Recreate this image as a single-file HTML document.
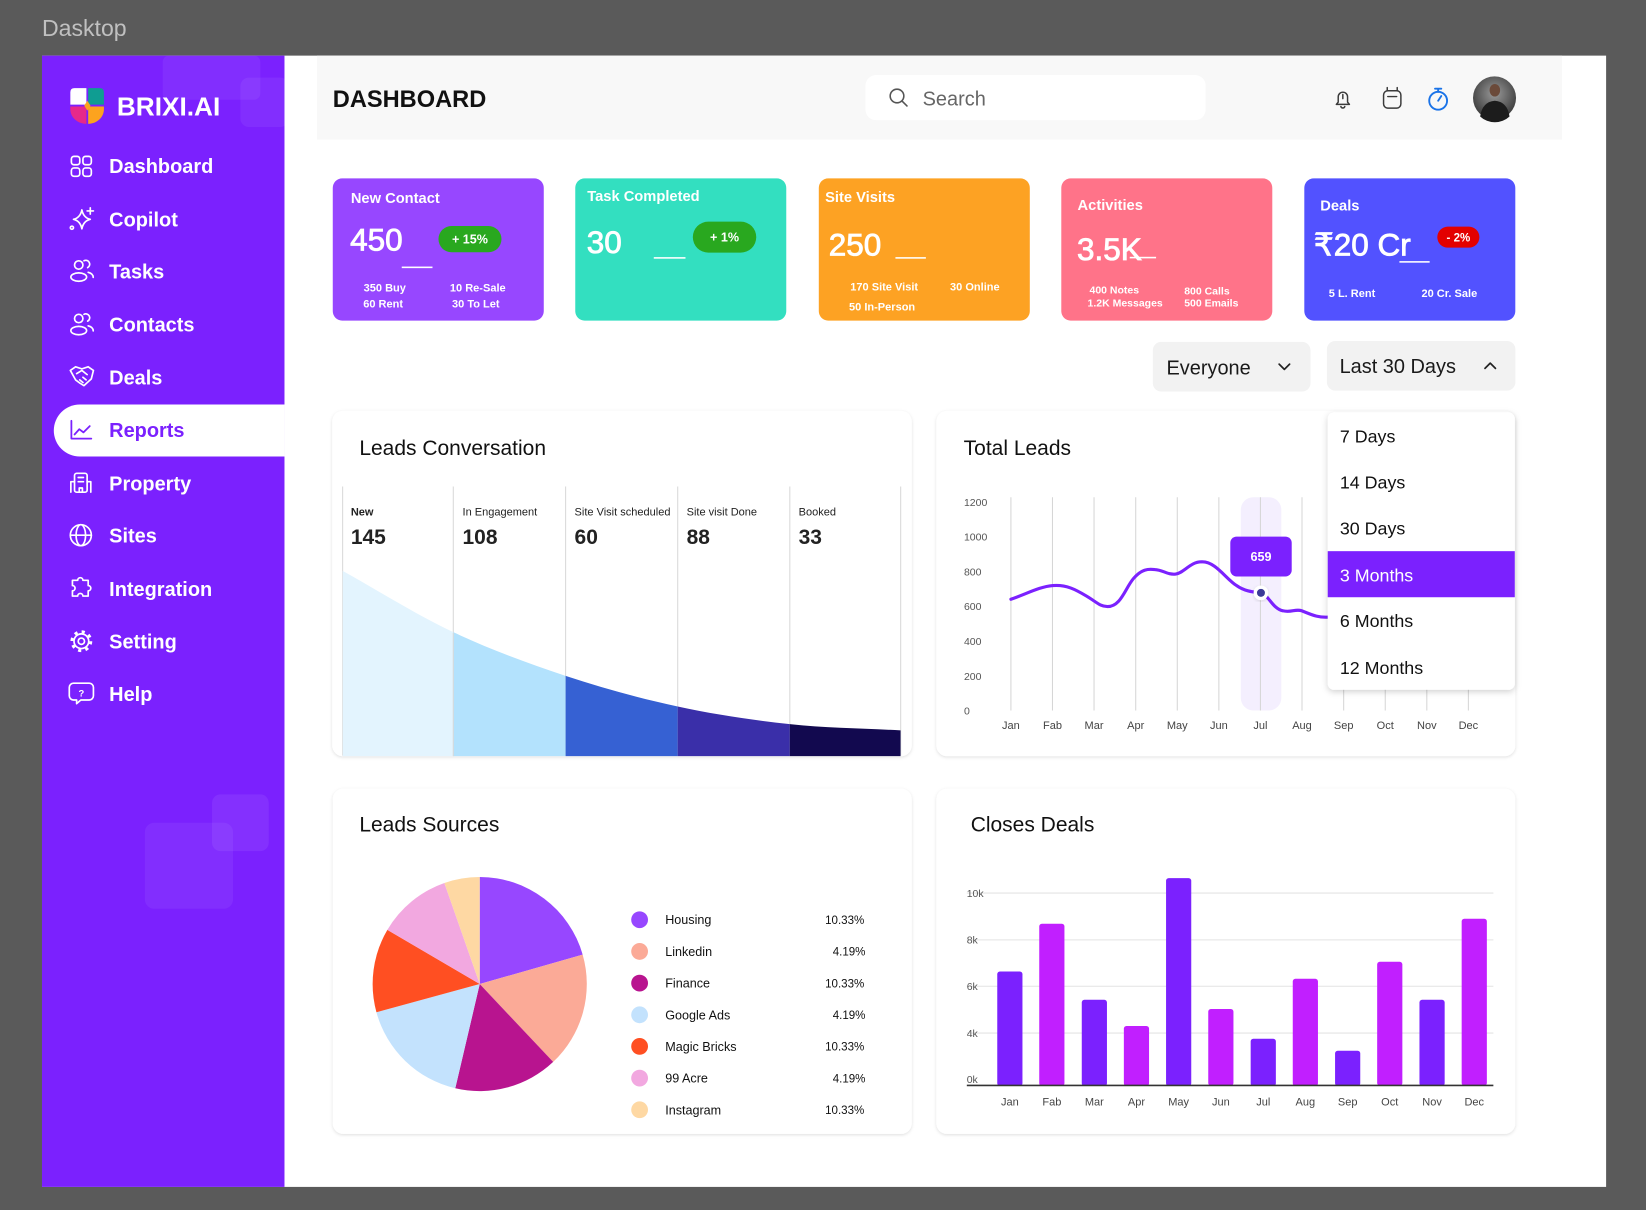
<!DOCTYPE html>
<html><head><meta charset="utf-8"><style>
html,body{margin:0;padding:0;background:#5a5a5a;width:1646px;height:1210px;overflow:hidden}
svg{display:block}
</style></head><body>
<svg width="1646" height="1210" viewBox="0 0 1568 1153" preserveAspectRatio="none" xmlns="http://www.w3.org/2000/svg" font-family="'Liberation Sans', 'DejaVu Sans', sans-serif">
<defs>
<filter id="sh" x="-5%" y="-5%" width="110%" height="115%"><feDropShadow dx="0" dy="1" stdDeviation="1.6" flood-color="#000" flood-opacity="0.13"/></filter>
<filter id="sh2" x="-10%" y="-10%" width="120%" height="120%"><feDropShadow dx="0" dy="2" stdDeviation="3" flood-color="#000" flood-opacity="0.18"/></filter>
<path id="area" d="M326.4,544 C361.5,563.5 396.4,585.7 431.8,602.4 C467.2,619.1 503.2,632.2 538.8,644 C574.4,655.8 610,665.5 645.6,673.2 C681.2,680.9 717,686.2 752.4,690 C787.8,693.8 822.8,694 858,696 L858,720.5 L326.4,720.5 Z"/>
<clipPath id="c1"><rect x="326.4" y="400" width="105.4" height="330"/></clipPath>
<clipPath id="c2"><rect x="431.8" y="400" width="107" height="330"/></clipPath>
<clipPath id="c3"><rect x="538.8" y="400" width="106.8" height="330"/></clipPath>
<clipPath id="c4"><rect x="645.6" y="400" width="106.8" height="330"/></clipPath>
<clipPath id="c5"><rect x="752.4" y="400" width="105.6" height="330"/></clipPath>
<radialGradient id="av" cx="50%" cy="40%" r="60%"><stop offset="0" stop-color="#9a9a9a"/><stop offset="1" stop-color="#3a3a3a"/></radialGradient>
</defs>

<rect x="0" y="0" width="1568" height="1153" fill="#5a5a5a"/>
<text x="40" y="34.5" font-size="22" fill="#c0c0c0">Dasktop</text>

<!-- panel -->
<rect x="40" y="53" width="1490" height="1078" fill="#ffffff"/>
<rect x="40" y="53" width="231" height="1078" fill="#7b21fe"/>
<!-- deco squares -->
<rect x="155" y="53" width="93" height="42" rx="6" fill="#ffffff" opacity="0.06"/>
<rect x="229" y="74" width="46" height="47" rx="8" fill="#ffffff" opacity="0.06"/>
<rect x="138" y="784" width="84" height="82" rx="9" fill="#ffffff" opacity="0.06"/>
<rect x="202" y="757" width="54" height="54" rx="8" fill="#ffffff" opacity="0.07"/>

<!-- logo -->
<path d="M67,88 Q67,84 71,84 H82.3 V99.7 H67 Z" fill="#ffffff"/>
<path d="M84,84 H95 Q99,84 99,88 V99.7 H84 Z" fill="#0f9d92"/>
<path d="M67,101.5 H82.3 V118 C74,118 67,112 67,104 Z" fill="#e6298a"/>
<path d="M84,101.5 H99 V104 C99,112 92,118 84,118 Z" fill="#fca31e"/>
<polygon points="83.2,96 86.2,100.7 83.2,105.4 80.2,100.7" fill="#fca31e"/>
<text x="111.3" y="110" font-size="25" font-weight="bold" fill="#ffffff">BRIXI.AI</text>

<!-- active pill -->
<path d="M76,385.5 H271 V435 H76 A24.75,24.75 0 0 1 76,385.5 Z" fill="#ffffff"/>

<!-- nav icons -->
<g fill="none" stroke="#ffffff" stroke-width="1.6" stroke-linecap="round" stroke-linejoin="round">
 <rect x="68" y="149" width="8" height="8" rx="2.5"/><rect x="79" y="149" width="8" height="8" rx="2.5"/>
 <rect x="68" y="160" width="8" height="8" rx="2.5"/><rect x="79" y="160" width="8" height="8" rx="2.5"/>
 <path d="M78,200 Q79.5,207.5 86,209 Q79.5,210.5 78,218 Q76.5,210.5 70,209 Q76.5,207.5 78,200Z"/>
 <path d="M86,198 v6 M83,201 h6"/><circle cx="68.5" cy="217" r="1.5"/>
 <circle cx="75" cy="252.5" r="4"/><ellipse cx="75" cy="264" rx="7.5" ry="4"/><path d="M80,248.5 a3.5,3.5 0 0 1 3.5,6.5 M84,259.5 c3,0.8 4.8,2.6 4.8,4.8"/>
 <circle cx="75" cy="303.5" r="4"/><ellipse cx="75" cy="315" rx="7.5" ry="4"/><path d="M80,299.5 a3.5,3.5 0 0 1 3.5,6.5 M84,310.5 c3,0.8 4.8,2.6 4.8,4.8"/>
 <path d="M67,353 l5,-3.5 l6,2 l6,-2 l5,3.5 l-2,8 l-7,6.5 l-4,-2.5 l-4,-3 z M73,356 l5,-3 l5,4 M76,362 l3,2.5 M79,359.5 l3,2.5"/>
 <circle cx="77" cy="510" r="10"/><ellipse cx="77" cy="510" rx="4.5" ry="10"/><path d="M67,510 h20"/>
 <path d="M69,553 h5 a2.5,2.5 0 1 1 5,0 h5 v5 a2.5,2.5 0 1 1 0,5 v5 h-5 a2.5,2.5 0 1 0 -5,0 h-5 v-5 a2.5,2.5 0 1 0 0,-5 z"/>
 <circle cx="77.5" cy="611" r="3"/><circle cx="77.5" cy="611" r="7"/>
 <circle cx="77.5" cy="611" r="9" stroke-width="2.8" stroke-dasharray="3 4.07" stroke-linecap="butt"/>
 <path d="M70,651 h15 a4,4 0 0 1 4,4 v8 a4,4 0 0 1 -4,4 h-8 l-4,3.5 v-3.5 h-3 a4,4 0 0 1 -4,-4 v-8 a4,4 0 0 1 4,-4 z"/>
 <rect x="71" y="451" width="12" height="18" rx="2"/><path d="M67.5,469 v-10 h3.5 M86.5,469 v-10 h-3.5 M74.5,455 h5 M74.5,459 h5 M75.5,469 v-4 h3 v4"/>
</g>
<text x="77.5" y="663.5" font-size="9" font-weight="bold" fill="#ffffff" text-anchor="middle">?</text>
<g fill="none" stroke="#7b21fe" stroke-width="1.7" stroke-linecap="round" stroke-linejoin="round">
 <path d="M68,401 v17 h19 M71,414 l4.5,-5 l4,3 l6,-6"/>
</g>

<!-- nav text -->
<g font-size="19" font-weight="bold" fill="#ffffff">
 <text x="104" y="165">Dashboard</text>
 <text x="104" y="215.8">Copilot</text>
 <text x="104" y="265.6">Tasks</text>
 <text x="104" y="315.8">Contacts</text>
 <text x="104" y="366.3">Deals</text>
 <text x="104" y="416.4" fill="#7b21fe">Reports</text>
 <text x="104" y="467.2">Property</text>
 <text x="104" y="517.1">Sites</text>
 <text x="104" y="567.9">Integration</text>
 <text x="104" y="618.1">Setting</text>
 <text x="104" y="667.9">Help</text>
</g>

<!-- header -->
<rect x="302" y="53" width="1186" height="80" fill="#f8f8f8"/>
<text x="317" y="102.2" font-size="22.5" font-weight="bold" fill="#111111">DASHBOARD</text>
<rect x="824.5" y="71.5" width="324" height="43" rx="10" fill="#ffffff"/>
<circle cx="854.5" cy="91.5" r="6.5" fill="none" stroke="#555" stroke-width="1.5"/>
<path d="M859.3,96.3 L864,101" stroke="#555" stroke-width="1.5" stroke-linecap="round"/>
<text x="878.9" y="100.5" font-size="19" fill="#666666">Search</text>
<g fill="none" stroke="#3a3a3a" stroke-width="1.4" stroke-linecap="round" stroke-linejoin="round">
 <path d="M1273,99.5 h12.5 l-1.8,-2.2 v-5 a4.45,4.45 0 0 0 -8.9,0 v5 z M1277.3,101.5 a2,2 0 0 0 3.8,0 M1279.2,90 v4"/>
 <rect x="1318" y="86.5" width="16.5" height="16.5" rx="4"/><path d="M1321.5,83.5 v3 M1331,83.5 v3 M1322,92 h8.5"/>
</g>
<g fill="none" stroke="#1a73e8" stroke-width="1.8" stroke-linecap="round">
 <circle cx="1370" cy="96" r="8.5"/><path d="M1367,84.5 h6 M1370,84.5 v3 M1370,96 l3,-4.5"/>
</g>
<circle cx="1423.7" cy="93.3" r="20.5" fill="url(#av)"/>
<ellipse cx="1424" cy="86" rx="5" ry="6" fill="#6b4a3a"/>
<path d="M1410,111 Q1412,97 1424,96 Q1436,97 1438,111 A20.5,20.5 0 0 1 1410,111 Z" fill="#1c1c1c"/>

<!-- stat cards -->
<rect x="317" y="170" width="201" height="135.5" rx="9" fill="#9747ff"/>
<rect x="548" y="170" width="201" height="135.5" rx="9" fill="#33dfc0"/>
<rect x="780" y="170" width="201" height="135.5" rx="9" fill="#fda223"/>
<rect x="1011" y="170" width="201" height="135.5" rx="9" fill="#ff7389"/>
<rect x="1242.5" y="170" width="201" height="135.5" rx="9" fill="#5252ff"/>

<g fill="#ffffff">
 <text x="334.2" y="193.3" font-size="14" font-weight="bold">New Contact</text>
 <text x="333.5" y="238.5" font-size="30" stroke="#ffffff" stroke-width="0.8">450</text>
 <rect x="417.7" y="215.3" width="60" height="25.1" rx="12.5" fill="#29a81f"/>
 <text x="447.7" y="232.2" font-size="12" font-weight="bold" text-anchor="middle">+ 15%</text>
 <rect x="382.7" y="254" width="29.3" height="1.5"/>
 <g font-size="10.5" font-weight="bold">
  <text x="346.4" y="277.8">350 Buy</text><text x="346" y="293.1">60 Rent</text>
  <text x="428.6" y="277.8">10 Re-Sale</text><text x="430.6" y="293.1">30 To Let</text>
 </g>

 <text x="559.4" y="191.4" font-size="14" font-weight="bold">Task Completed</text>
 <text x="559" y="241" font-size="30" stroke="#ffffff" stroke-width="0.8">30</text>
 <rect x="622.8" y="245" width="30.2" height="1.5"/>
 <rect x="660" y="211.2" width="60.4" height="29.5" rx="14.7" fill="#29a81f"/>
 <text x="690.2" y="230.3" font-size="12" font-weight="bold" text-anchor="middle">+ 1%</text>

 <text x="786" y="192.4" font-size="14" font-weight="bold">Site  Visits</text>
 <text x="789.5" y="243.6" font-size="30" stroke="#ffffff" stroke-width="0.8">250</text>
 <rect x="853" y="245" width="29" height="1.5"/>
 <g font-size="10.5" font-weight="bold">
  <text x="810" y="276.9">170 Site Visit</text><text x="905" y="276.9">30 Online</text>
  <text x="808.8" y="296">50 In-Person</text>
 </g>

 <text x="1026.5" y="200.3" font-size="14" font-weight="bold">Activities</text>
 <text x="1026" y="247.7" font-size="30" stroke="#ffffff" stroke-width="0.8">3.5K</text>
 <rect x="1076.2" y="244.7" width="25.1" height="1.5"/>
 <g font-size="10" font-weight="bold">
  <text x="1037.9" y="279.9">400 Notes</text><text x="1036" y="291.9">1.2K Messages</text>
  <text x="1128.1" y="280.5">800 Calls</text><text x="1128.1" y="291.9">500 Emails</text>
 </g>

 <text x="1257.7" y="200.6" font-size="14" font-weight="bold">Deals</text>
 <text x="1251.5" y="243.6" font-size="30" stroke="#ffffff" stroke-width="0.8">₹20 Cr</text>
 <rect x="1333.1" y="248.8" width="28.8" height="1.5"/>
 <rect x="1369.2" y="216" width="40.1" height="20" rx="10" fill="#e30000"/>
 <text x="1389.3" y="230" font-size="11" font-weight="bold" text-anchor="middle">- 2%</text>
 <g font-size="10.5" font-weight="bold">
  <text x="1265.8" y="282.9">5 L. Rent</text><text x="1354.1" y="282.9">20 Cr. Sale</text>
 </g>
</g>

<!-- filters -->
<rect x="1098.2" y="325.8" width="150.2" height="47.3" rx="8" fill="#f2f2f2"/>
<text x="1111.2" y="356.7" font-size="19" fill="#1a1a1a">Everyone</text>
<path d="M1218.5,347 l5,5 l5,-5" fill="none" stroke="#222" stroke-width="1.6" stroke-linecap="round" stroke-linejoin="round"/>
<rect x="1264" y="324.9" width="179.6" height="47.3" rx="8" fill="#f2f2f2"/>
<text x="1276.1" y="355.3" font-size="19" fill="#1a1a1a">Last 30 Days</text>
<path d="M1414.6,351 l5,-5 l5,5" fill="none" stroke="#222" stroke-width="1.6" stroke-linecap="round" stroke-linejoin="round"/>

<!-- Leads Conversation card -->
<rect x="316.5" y="391.5" width="552" height="329" rx="10" fill="#ffffff" filter="url(#sh)"/>
<text x="342.3" y="433.4" font-size="20" fill="#111111">Leads Conversation</text>
<g stroke="#d9d9d9" stroke-width="1">
 <path d="M326.4,463.6 V720 M431.8,463.6 V720 M538.8,463.6 V720 M645.6,463.6 V720 M752.4,463.6 V720 M858,463.6 V720"/>
</g>
<use href="#area" clip-path="url(#c1)" fill="#e3f4fe"/>
<use href="#area" clip-path="url(#c2)" fill="#b3e2fd"/>
<use href="#area" clip-path="url(#c3)" fill="#3661d3"/>
<use href="#area" clip-path="url(#c4)" fill="#3a2fa9"/>
<use href="#area" clip-path="url(#c5)" fill="#12094f"/>
<path d="M431.8,603 V720.5" stroke="#d9d9d9" stroke-width="1"/>
<g font-size="10.5" fill="#222222">
 <text x="334.2" y="491.2" font-weight="bold">New</text>
 <text x="440.6" y="491.2">In Engagement</text>
 <text x="547.3" y="491.2">Site Visit scheduled</text>
 <text x="654.1" y="491.2">Site visit Done</text>
 <text x="760.8" y="491.2">Booked</text>
</g>
<g font-size="20" font-weight="bold" fill="#222222">
 <text x="334.2" y="518.4">145</text>
 <text x="440.6" y="518.4">108</text>
 <text x="547.3" y="518.4">60</text>
 <text x="654.1" y="518.4">88</text>
 <text x="760.8" y="518.4">33</text>
</g>

<!-- Total Leads card -->
<rect x="892" y="391.5" width="551.5" height="329" rx="10" fill="#ffffff" filter="url(#sh)"/>
<text x="918" y="433.4" font-size="20" fill="#111111">Total Leads</text>
<g font-size="10" fill="#555555">
 <text x="918.3" y="482.1">1200</text><text x="918.3" y="515.2">1000</text><text x="918.3" y="548.4">800</text>
 <text x="918.3" y="581.5">600</text><text x="918.3" y="614.7">400</text><text x="918.3" y="647.8">200</text>
 <text x="918.3" y="681">0</text>
</g>
<rect x="1182" y="473.8" width="38.6" height="203.2" rx="12" fill="#f4effe"/>
<g stroke="#d6d6d6" stroke-width="1">
 <path d="M963,473.8 V677 M1002.6,473.8 V677 M1042.2,473.8 V677 M1081.9,473.8 V677 M1121.5,473.8 V677 M1161.1,473.8 V677 M1200.7,473.8 V677 M1240.3,473.8 V677 M1280,473.8 V677 M1319.6,473.8 V677 M1359.2,473.8 V677 M1398.8,473.8 V677"/>
</g>
<g font-size="10.5" fill="#444444" text-anchor="middle">
 <text x="963" y="694.5">Jan</text><text x="1002.6" y="694.5">Fab</text><text x="1042.2" y="694.5">Mar</text>
 <text x="1081.9" y="694.5">Apr</text><text x="1121.5" y="694.5">May</text><text x="1161.1" y="694.5">Jun</text>
 <text x="1200.7" y="694.5">Jul</text><text x="1240.3" y="694.5">Aug</text><text x="1280" y="694.5">Sep</text>
 <text x="1319.6" y="694.5">Oct</text><text x="1359.2" y="694.5">Nov</text><text x="1398.8" y="694.5">Dec</text>
</g>
<path d="M963,571 C978,566 990,559 1003,558 C1016,557 1025,562 1035,568 C1045,574 1048,578 1055,578 C1068,578 1072,560 1080,551 C1088,542 1094,542 1100,542.7 C1108,543 1112,548 1120,547 C1128,546 1134,535 1145,535.4 C1158,535 1168,552 1178,558 C1185,563 1192,564 1201,565 C1208,566 1212,580 1222,582 C1230,584 1234,580 1240,582 C1248,585 1255,589 1266,588" fill="none" stroke="#7b21fe" stroke-width="3" stroke-linecap="round"/>
<rect x="1172" y="511.3" width="58.5" height="38" rx="6" fill="#7b21fe"/>
<text x="1201.2" y="534.6" font-size="12" font-weight="bold" fill="#ffffff" text-anchor="middle">659</text>
<circle cx="1201.2" cy="564.9" r="7" fill="#ffffff" filter="url(#sh)"/>
<circle cx="1201.2" cy="564.9" r="3.8" fill="#3b3b98"/>

<!-- dropdown menu -->
<rect x="1264.8" y="393" width="178.2" height="264.3" rx="6" fill="#ffffff" filter="url(#sh2)"/>
<rect x="1264.8" y="525.2" width="178.2" height="43.9" fill="#7b21fe"/>
<g font-size="17" fill="#111111">
 <text x="1276.4" y="421.5">7 Days</text>
 <text x="1276.4" y="465.6">14 Days</text>
 <text x="1276.4" y="509.4">30 Days</text>
 <text x="1276.4" y="553.9" fill="#ffffff">3 Months</text>
 <text x="1276.4" y="597.7">6 Months</text>
 <text x="1276.4" y="642.2">12 Months</text>
</g>

<!-- Leads Sources card -->
<rect x="317" y="751.5" width="551.5" height="329" rx="10" fill="#ffffff" filter="url(#sh)"/>
<text x="342.3" y="792.5" font-size="20" fill="#111111">Leads Sources</text>
<path d="M457,937.7 L457,835.7 A102,102 0 0 1 555.05,909.6 Z" fill="#9747ff"/>
<path d="M457,937.7 L555.05,909.6 A102,102 0 0 1 526.95,1011.9 Z" fill="#fbaa97"/>
<path d="M457,937.7 L526.95,1011.9 A102,102 0 0 1 433.7,1037 Z" fill="#b8148f"/>
<path d="M457,937.7 L433.7,1037 A102,102 0 0 1 358.6,964.6 Z" fill="#c3e2fd"/>
<path d="M457,937.7 L358.6,964.6 A102,102 0 0 1 369,886.1 Z" fill="#ff4f22"/>
<path d="M457,937.7 L369,886.1 A102,102 0 0 1 423.3,841.4 Z" fill="#f2a8e0"/>
<path d="M457,937.7 L423.3,841.4 A102,102 0 0 1 457,835.7 Z" fill="#fed8a3"/>
<g>
 <circle cx="609.3" cy="876.4" r="8" fill="#9747ff"/>
 <circle cx="609.3" cy="906.6" r="8" fill="#fbaa97"/>
 <circle cx="609.3" cy="936.8" r="8" fill="#b8148f"/>
 <circle cx="609.3" cy="967" r="8" fill="#c3e2fd"/>
 <circle cx="609.3" cy="997.1" r="8" fill="#ff4f22"/>
 <circle cx="609.3" cy="1027.3" r="8" fill="#f2a8e0"/>
 <circle cx="609.3" cy="1057.5" r="8" fill="#fed8a3"/>
</g>
<g font-size="12" fill="#111111">
 <text x="633.7" y="880.7">Housing</text>
 <text x="633.7" y="910.9">Linkedin</text>
 <text x="633.7" y="941.1">Finance</text>
 <text x="633.7" y="971.3">Google Ads</text>
 <text x="633.7" y="1001.4">Magic Bricks</text>
 <text x="633.7" y="1031.6">99 Acre</text>
 <text x="633.7" y="1061.8">Instagram</text>
</g>
<g font-size="11" fill="#111111" text-anchor="end">
 <text x="823.3" y="880.4">10.33%</text>
 <text x="824.4" y="910.6">4.19%</text>
 <text x="823.3" y="940.8">10.33%</text>
 <text x="824.4" y="971">4.19%</text>
 <text x="823.3" y="1001.1">10.33%</text>
 <text x="824.4" y="1031.3">4.19%</text>
 <text x="823.3" y="1061.5">10.33%</text>
</g>

<!-- Closes Deals card -->
<rect x="892" y="751.5" width="551.5" height="329" rx="10" fill="#ffffff" filter="url(#sh)"/>
<text x="924.7" y="792.5" font-size="20" fill="#111111">Closes Deals</text>
<g stroke="#e3e3e3" stroke-width="1">
 <path d="M921,851 H1422.6 M921,895.6 H1422.6 M921,939.8 H1422.6 M921,984.4 H1422.6"/>
</g>
<g font-size="10" fill="#555555">
 <text x="920.9" y="854.6">10k</text><text x="920.9" y="899.1">8k</text><text x="920.9" y="943.6">6k</text>
 <text x="920.9" y="988">4k</text><text x="920.9" y="1031.8">0k</text>
</g>
<g>
 <rect x="950" y="925.7" width="24" height="109" rx="2.5" fill="#7b21fe"/>
 <rect x="990" y="880.2" width="24" height="154.5" rx="2.5" fill="#c11fff"/>
 <rect x="1030.5" y="952.7" width="24" height="82" rx="2.5" fill="#7b21fe"/>
 <rect x="1070.6" y="977.7" width="24" height="57" rx="2.5" fill="#c11fff"/>
 <rect x="1110.8" y="836.7" width="24" height="198" rx="2.5" fill="#7b21fe"/>
 <rect x="1151" y="961.5" width="24" height="73" rx="2.5" fill="#c11fff"/>
 <rect x="1191.4" y="989.8" width="24" height="45" rx="2.5" fill="#7b21fe"/>
 <rect x="1231.5" y="932.7" width="24" height="102" rx="2.5" fill="#c11fff"/>
 <rect x="1271.8" y="1001.2" width="24" height="33.5" rx="2.5" fill="#7b21fe"/>
 <rect x="1311.9" y="916.5" width="24" height="118" rx="2.5" fill="#c11fff"/>
 <rect x="1352.2" y="952.7" width="24" height="82" rx="2.5" fill="#7b21fe"/>
 <rect x="1392.4" y="875.5" width="24" height="159" rx="2.5" fill="#c11fff"/>
</g>
<path d="M921,1034.3 H1422.6" stroke="#333333" stroke-width="1.5"/>
<g font-size="10.5" fill="#444444" text-anchor="middle">
 <text x="962" y="1053.6">Jan</text><text x="1002" y="1053.6">Fab</text><text x="1042.5" y="1053.6">Mar</text>
 <text x="1082.6" y="1053.6">Apr</text><text x="1122.8" y="1053.6">May</text><text x="1163" y="1053.6">Jun</text>
 <text x="1203.4" y="1053.6">Jul</text><text x="1243.5" y="1053.6">Aug</text><text x="1283.8" y="1053.6">Sep</text>
 <text x="1323.9" y="1053.6">Oct</text><text x="1364.2" y="1053.6">Nov</text><text x="1404.4" y="1053.6">Dec</text>
</g>
</svg>
</body></html>
